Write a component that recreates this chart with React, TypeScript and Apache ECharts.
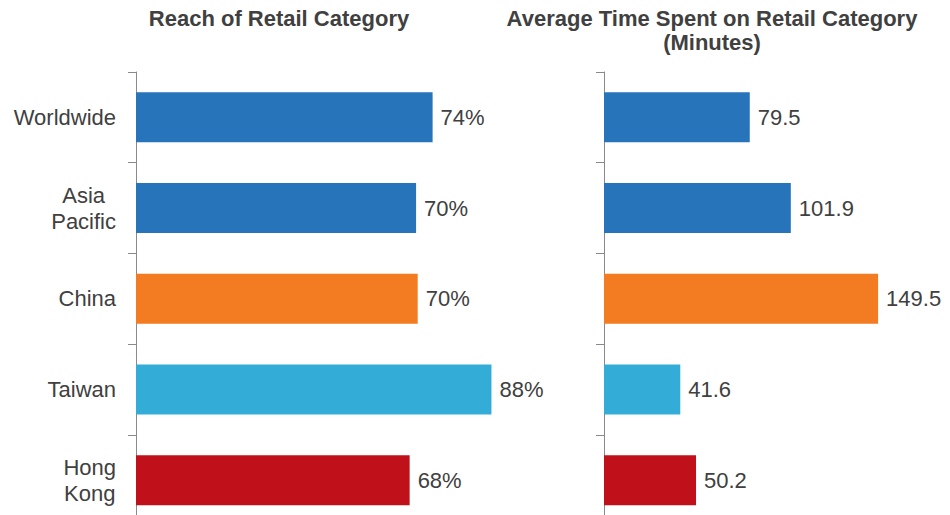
import React, { useEffect, useRef } from "react";
import * as echarts from "echarts";

const categories = ["Worldwide", "Asia\nPacific", "China", "Taiwan", "Hong\nKong"];
const reachValues = [73.6, 69.5, 69.9, 88.2, 67.9];
const timeValues = [79.5, 101.9, 149.5, 41.6, 50.2];
const barColors = ["#2774BA", "#2774BA", "#F37B21", "#33ADD7", "#C0111B"];
const titles = ["Reach of Retail Category", "Average Time Spent on Retail Category\n(Minutes)"];

const FONT = "'Liberation Sans', Arial, sans-serif";
const TEXT = "#404040";
const AXIS = "#8a8a8a";

export default function App() {
  const ref = useRef<HTMLDivElement>(null);
  useEffect(() => {
    if (!ref.current) return;
    const chart = echarts.init(ref.current, null, { renderer: "svg" });
    const mk = (vals: number[]) =>
      vals.map((v, i) => ({ value: v, itemStyle: { color: barColors[i] } }));
    const catAxis = (gridIndex: number, showLabel: boolean) => ({
      type: "category" as const,
      gridIndex,
      data: categories,
      inverse: true,
      axisLine: { show: true, lineStyle: { color: AXIS, width: 1 } },
      axisTick: { show: true, length: 8, lineStyle: { color: AXIS, width: 1 } },
      axisLabel: {
        show: showLabel,
        margin: 20,
        formatter: (v: string) => v.split("\n").map((s) => `{c|${s}}`).join("\n"),
        rich: {
          c: { align: "center", fontSize: 22, lineHeight: 26, color: TEXT, fontFamily: FONT },
        },
      },
    });
    chart.setOption({
      animation: false,
      textStyle: { fontFamily: FONT },
      title: [
        {
          text: titles[0],
          left: 279,
          top: 6,
          padding: 0,
          textAlign: "center",
          textStyle: { fontSize: 22, fontWeight: "bold", color: TEXT, fontFamily: FONT, lineHeight: 24 },
        },
        {
          text: titles[1],
          left: 712,
          top: 6,
          padding: 0,
          textAlign: "center",
          textStyle: { fontSize: 22, fontWeight: "bold", color: TEXT, fontFamily: FONT, lineHeight: 24 },
        },
      ],
      grid: [
        { left: 136, top: 72, width: 403, height: 453.5, containLabel: false },
        { left: 604, top: 72, width: 330, height: 453.5, containLabel: false },
      ],
      xAxis: [
        { type: "value", gridIndex: 0, min: 0, max: 100, show: false },
        { type: "value", gridIndex: 1, min: 0, max: 180, show: false },
      ],
      yAxis: [catAxis(0, true), catAxis(1, false)],
      series: [
        {
          type: "bar",
          xAxisIndex: 0,
          yAxisIndex: 0,
          data: mk(reachValues),
          barWidth: 50,
          label: {
            show: true,
            position: "right",
            distance: 8,
            fontSize: 22,
            color: TEXT,
            fontFamily: FONT,
            formatter: (p: any) => `${Math.round(p.value)}%`,
          },
        },
        {
          type: "bar",
          xAxisIndex: 1,
          yAxisIndex: 1,
          data: mk(timeValues),
          barWidth: 50,
          label: {
            show: true,
            position: "right",
            distance: 8,
            fontSize: 22,
            color: TEXT,
            fontFamily: FONT,
            formatter: (p: any) => Number(p.value).toFixed(1),
          },
        },
      ],
    });
    return () => chart.dispose();
  }, []);
  return (
    <div
      ref={ref}
      style={{ position: "fixed", left: 0, top: 0, width: 950, height: 530, background: "#fff" }}
    />
  );
}
